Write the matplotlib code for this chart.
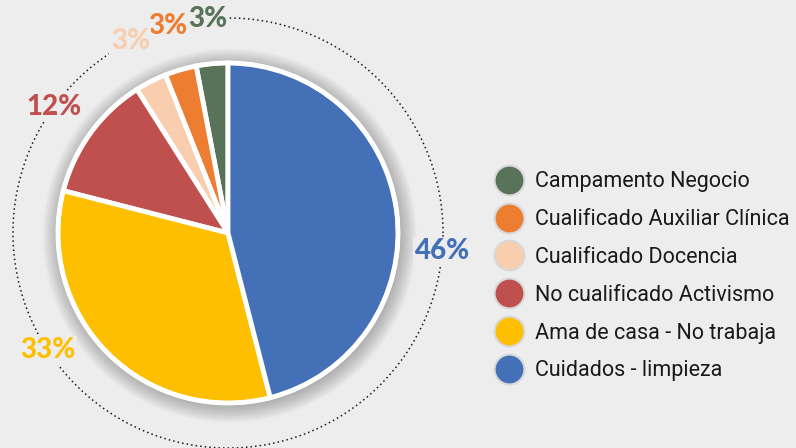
import numpy as np
import matplotlib.pyplot as plt
from matplotlib.lines import Line2D
from matplotlib.patches import Circle
from matplotlib.legend_handler import HandlerTuple

categories = ["Campamento Negocio", "Cualificado Auxiliar Clínica", "Cualificado Docencia",
              "No cualificado Activismo", "Ama de casa - No trabaja", "Cuidados - limpieza"]
values = [3, 3, 3, 12, 33, 46]
labels = ["3%", "3%", "3%", "12%", "33%", "46%"]
colors = ["#58735A", "#ED7D31", "#F9CEAF", "#C0504D", "#FDBF00", "#4370B7"]
# small angular nudges (degrees) applied to the two large labels
label_shift = [0, 0, 0, 0, -12, -12]

bg = "#EDEDED"
fig = plt.figure(figsize=(7.96, 4.48), dpi=100, facecolor=bg)

# pie axes: centre at (228, 233) px, radius 170 px
L = 1.32
pxu = 170
ax = fig.add_axes([(228 - L * pxu) / 796, (215 - L * pxu) / 448,
                   2 * L * pxu / 796, 2 * L * pxu / 448])

wedges, _ = ax.pie(values, colors=colors, startangle=90, counterclock=True,
                   wedgeprops=dict(edgecolor="white", linewidth=3.5),
                   radius=1.0)
ax.set_xlim(-L, L)
ax.set_ylim(-L, L)
ax.set_aspect("equal")
ax.axis("off")

# soft shadow
for r in np.linspace(1.10, 1.0, 14):
    ax.add_patch(Circle((0.01, -0.015), r, color="#000000", alpha=0.02, lw=0, zorder=0))
for w in wedges:
    w.set_zorder(2)
ax.add_patch(Circle((0, 0), 1.0, fill=False, ec="white", lw=3, zorder=3))

# dotted outer ring
t = np.linspace(0, 2 * np.pi, 400)
R = 1.265
ax.plot(R * np.cos(t), R * np.sin(t), color="#1a1a1a", lw=1.1,
        linestyle=(0, (1, 2.0)), zorder=1, clip_on=False)

# percentage labels
for w, lab, col, sh in zip(wedges, labels, colors, label_shift):
    ang = np.deg2rad((w.theta1 + w.theta2) / 2 + sh)
    ax.text(R * np.cos(ang), R * np.sin(ang), lab, color=col, fontsize=20,
            fontweight="black", family="Lato", ha="center", va="center", zorder=4,
            bbox=dict(facecolor=bg, edgecolor="none", pad=1.0))

# legend
handles = []
for c in colors:
    sh = Line2D([], [], marker="o", ls="none", markersize=23, markerfacecolor="#AAAAAA",
                markeredgecolor="none", alpha=0.3)
    mk = Line2D([], [], marker="o", ls="none", markersize=20, markerfacecolor=c,
                markeredgecolor="none")
    handles.append((sh, mk))
leg = fig.legend(handles, categories, handler_map={tuple: HandlerTuple(ndivide=1, pad=0)},
                 loc="center left", bbox_to_anchor=(0.599, 0.383), frameon=False,
                 prop=dict(family="Roboto", size=15.5), labelspacing=0.78,
                 handlelength=1.2, handletextpad=0.6)
for txt in leg.get_texts():
    txt.set_color("#1a1a1a")

fig.savefig("out.png", dpi=100, facecolor=bg)
